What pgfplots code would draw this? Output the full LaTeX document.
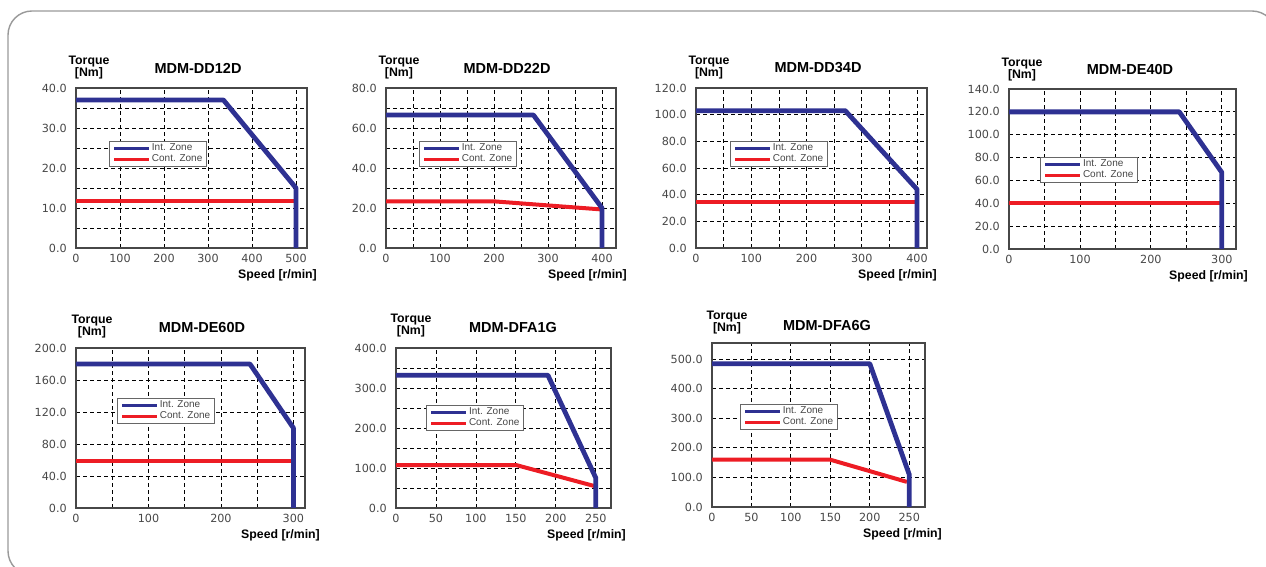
\documentclass[border=0pt]{standalone}
\usepackage{fontspec}
\setmainfont{Liberation Sans}
\newfontfamily\tickfont{DejaVu Sans}
\usepackage{pgfplots}
\pgfplotsset{compat=1.18}
\definecolor{intblue}{RGB}{46,49,146}
\definecolor{contred}{RGB}{237,28,36}
\pgfplotsset{
 tq/.style={
  scale only axis,
  clip=false,
  axis line style={draw=black!72, line width=1.3pt},
  grid=both,
  major grid style={black, line width=0.8pt, dash pattern=on 4pt off 3pt},
  minor grid style={black, line width=0.8pt, dash pattern=on 4pt off 3pt},
  major tick length=0pt, minor tick length=0pt,
  xmin=0, ymin=0,
  tick label style={font=\tickfont\fontsize{11.2}{13}\selectfont, text=black!72},
  /pgf/number format/assume math mode=true,
  xticklabel style={inner sep=0pt, anchor=north, yshift=-6pt},
  yticklabel style={inner sep=0pt, anchor=east, xshift=-9pt,
    /pgf/number format/fixed, /pgf/number format/fixed zerofill, /pgf/number format/precision=1},
  legend style={anchor=north west, draw=black!60, line width=0.8pt, fill=white,
    font=\fontsize{10}{12}\selectfont, text=black!72, inner xsep=3pt, inner ysep=1.5pt,
    nodes={inner sep=1pt, text height=7pt, text depth=2pt}},
  /tikz/every even column/.append style={column sep=0pt},
  reverse legend,
  legend cell align=left,
  legend image code/.code={\draw[##1, line width=3.5pt] (0pt,0pt) -- (35pt,0pt);},
 },
 intz/.style={draw=intblue, line width=4.8pt, line join=round, mark=none},
 contz/.style={draw=contred, line width=4pt, line join=round, mark=none},
}
\newcommand{\labels}[6]{%
 \node[font=\bfseries\fontsize{14.5}{16}\selectfont, inner sep=0pt, xshift=#2pt, yshift=#3pt] at (rel axis cs:0,1) {#1};
 \node[align=center, font=\bfseries\fontsize{12.3}{12}\selectfont, inner sep=0pt, xshift=#4pt, yshift=#5pt] at (rel axis cs:0,1) {Torque\\{[Nm]}};
 \node[anchor=east, font=\bfseries\fontsize{12.3}{14}\selectfont, inner sep=0pt, xshift=#6pt, yshift=-27pt] at (rel axis cs:1,0) {Speed [r/min]};
}
\begin{document}
\begin{tikzpicture}
\useasboundingbox (0pt,0pt) rectangle (1266pt,567pt);
\draw[black!40, line width=1.4pt, rounded corners=24pt] (8pt,-8pt) rectangle (1276pt,556pt);

% 1 MDM-DD12D
\begin{axis}[tq, at={(76pt,319pt)}, anchor=south west, width=231pt, height=160pt,
  xmax=525, ymax=40, xtick={0,100,...,500}, ytick={0,10,...,40}, minor y tick num=1,
  legend style={at={(0.143,0.669)}}]
\addplot[contz] coordinates {(0,11.7) (497,11.7)};
\addlegendentry{Cont. Zone}
\addplot[intz] coordinates {(0,37) (335,37) (500,15) (500,0)};
\addlegendentry{Int. Zone}
\labels{MDM-DD12D}{122}{20}{13}{20}{10}
\end{axis}

% 2 MDM-DD22D
\begin{axis}[tq, at={(386pt,319pt)}, anchor=south west, width=230pt, height=160pt,
  xmax=426, ymax=80, xtick={0,100,...,400}, minor x tick num=1, ytick={0,20,...,80}, minor y tick num=1,
  legend style={at={(0.143,0.669)}}]
\addplot[contz] coordinates {(0,23.3) (201,23.3) (398,19.3)};
\addlegendentry{Cont. Zone}
\addplot[intz] coordinates {(0,66.5) (273,66.5) (400,20) (400,0)};
\addlegendentry{Int. Zone}
\labels{MDM-DD22D}{121}{20}{13}{20}{11}
\end{axis}

% 3 MDM-DD34D
\begin{axis}[tq, at={(696pt,319pt)}, anchor=south west, width=231pt, height=160pt,
  xmax=418, ymax=120, xtick={0,100,...,400}, minor x tick num=1, ytick={0,20,...,120},
  legend style={at={(0.147,0.669)}}]
\addplot[contz] coordinates {(0,34.8) (398,34.8)};
\addlegendentry{Cont. Zone}
\addplot[intz] coordinates {(0,103) (270,103) (400,44) (400,0)};
\addlegendentry{Int. Zone}
\labels{MDM-DD34D}{122}{20}{13}{20}{10}
\end{axis}

% 4 MDM-DE40D
\begin{axis}[tq, at={(1009pt,318pt)}, anchor=south west, width=227pt, height=160pt,
  xmax=320, ymax=140, xtick={0,100,...,300}, minor x tick num=1, ytick={0,20,...,140},
  legend style={at={(0.137,0.575)}}]
\addplot[contz] coordinates {(0,40) (298,40)};
\addlegendentry{Cont. Zone}
\addplot[intz] coordinates {(0,120) (240,120) (300,67) (300,0)};
\addlegendentry{Int. Zone}
\labels{MDM-DE40D}{121}{19}{13}{19}{12}
\end{axis}

% 5 MDM-DE60D
\begin{axis}[tq, at={(76pt,59pt)}, anchor=south west, width=229pt, height=160pt,
  xmax=316, ymax=200, xtick={0,100,...,300}, minor x tick num=1, ytick={0,40,...,200},
  legend style={at={(0.179,0.6875)}}]
\addplot[contz] coordinates {(0,59) (298,59)};
\addlegendentry{Cont. Zone}
\addplot[intz] coordinates {(0,180) (240,180) (300,100) (300,0)};
\addlegendentry{Int. Zone}
\labels{MDM-DE60D}{126}{20}{16}{21}{15}
\end{axis}

% 6 MDM-DFA1G
\begin{axis}[tq, at={(396pt,59pt)}, anchor=south west, width=215pt, height=160pt,
  xmax=269, ymax=400, xtick={0,50,...,250}, ytick={0,100,...,400}, minor y tick num=1,
  legend style={at={(0.14,0.644)}}]
\addplot[contz] coordinates {(0,107) (151,107) (248,55)};
\addlegendentry{Cont. Zone}
\addplot[intz] coordinates {(0,332) (190,332) (250,75) (250,0)};
\addlegendentry{Int. Zone}
\labels{MDM-DFA1G}{117}{20}{15}{22}{15}
\end{axis}

% 7 MDM-DFA6G
\begin{axis}[tq, at={(712pt,60pt)}, anchor=south west, width=213pt, height=164pt,
  xmax=270, ymax=555, xtick={0,50,...,250}, ytick={0,100,...,500},
  legend style={at={(0.131,0.628)}}]
\addplot[contz] coordinates {(0,160) (150,160) (247,85)};
\addlegendentry{Cont. Zone}
\addplot[intz] coordinates {(0,485) (200,485) (250,110) (250,0)};
\addlegendentry{Int. Zone}
\labels{MDM-DFA6G}{115}{17}{15}{20}{17}
\end{axis}
\end{tikzpicture}
\end{document}
